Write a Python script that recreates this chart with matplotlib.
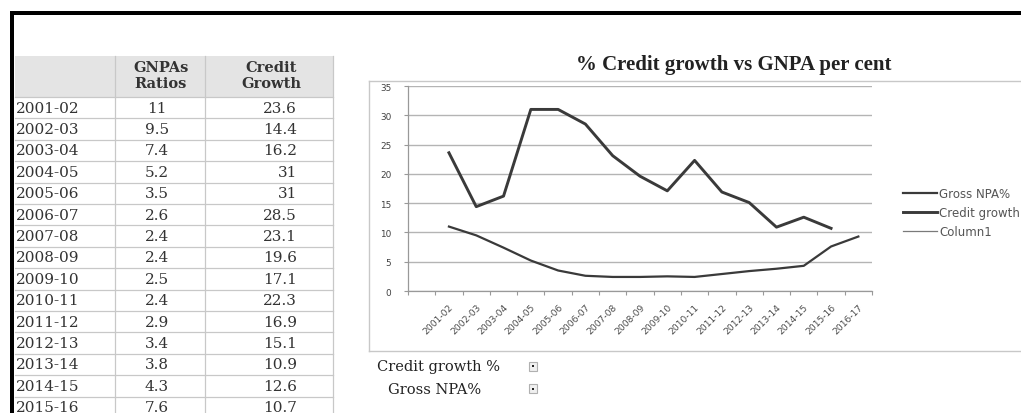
import numpy as np
import matplotlib
matplotlib.use("Agg")
import matplotlib.pyplot as plt
from matplotlib.patches import Rectangle
from matplotlib.transforms import ScaledTranslation

W, H = 1021, 414

years = ["2001-02", "2002-03", "2003-04", "2004-05", "2005-06", "2006-07",
         "2007-08", "2008-09", "2009-10", "2010-11", "2011-12", "2012-13",
         "2013-14", "2014-15", "2015-16", "2016-17"]
gnpa = [11, 9.5, 7.4, 5.2, 3.5, 2.6, 2.4, 2.4, 2.5, 2.4, 2.9, 3.4, 3.8, 4.3, 7.6, 9.3]
credit = [23.6, 14.4, 16.2, 31, 31, 28.5, 23.1, 19.6, 17.1, 22.3, 16.9, 15.1, 10.9, 12.6, 10.7]
column1 = []

table_years = years[:15]
table_gnpa = gnpa[:15]
table_credit = credit[:15]

header_gnpa = "GNPAs\nRatios"
header_credit = "Credit\nGrowth"
title = "% Credit growth vs GNPA per cent"
legend_labels = ["Gross NPA%", "Credit growth", "Column1"]
filter_labels = ["Credit growth %", "Gross NPA%"]
y_ticks = [0, 5, 10, 15, 20, 25, 30, 35]

C_LINE = "#3a3a3a"
C_GRID = "#b4b4b4"
C_RULE = "#c8c8c8"
C_TEXT = "#333333"
SERIF = "DejaVu Serif"

fig = plt.figure(figsize=(W / 100, H / 100), dpi=100)

# pixel-space background layer for table, frame and loose text
bg = fig.add_axes([0, 0, 1, 1], zorder=0)
bg.set_xlim(0, W)
bg.set_ylim(H, 0)
bg.axis("off")

# thick black border top / left
bg.add_patch(Rectangle((10, 12), W, 4, facecolor="black", lw=0))
bg.add_patch(Rectangle((10, 12), 4, H, facecolor="black", lw=0))

# ---- table ----
ROW0, ROWH = 98, 21.4
bg.add_patch(Rectangle((15, 57), 318, ROW0 - 57, facecolor="#e4e4e4", lw=0))
for x in [115, 205, 333]:
    bg.plot([x, x], [57, H], color=C_RULE, lw=0.9)
for i in range(len(table_years) + 1):
    y = ROW0 + i * ROWH
    bg.plot([15, 333], [y, y], color=C_RULE, lw=0.9)

bg.text(161, 76, header_gnpa, ha="center", va="center", family=SERIF,
        weight="bold", fontsize=10.5, color=C_TEXT, linespacing=1.1)
bg.text(271, 76, header_credit, ha="center", va="center", family=SERIF,
        weight="bold", fontsize=10.5, color=C_TEXT, linespacing=1.1)

for i, (yr, g, c) in enumerate(zip(table_years, table_gnpa, table_credit)):
    yc = ROW0 + ROWH * (i + 0.5)
    bg.text(16, yc, yr, ha="left", va="center", family=SERIF, fontsize=11, color=C_TEXT)
    bg.text(157, yc, f"{g:g}", ha="center", va="center", family=SERIF, fontsize=11, color=C_TEXT)
    bg.text(297, yc, f"{c:g}", ha="right", va="center", family=SERIF, fontsize=11, color=C_TEXT)

# ---- chart frame, title, filter buttons ----
bg.plot([369, W], [82, 82], color=C_RULE, lw=1)
bg.plot([369, 369], [82, 352], color=C_RULE, lw=1)
bg.plot([369, W], [352, 352], color=C_RULE, lw=1)

fig.text(734 / W, 1 - 65 / H, title, ha="center", va="center",
         family="Liberation Serif", weight="bold", fontsize=15, color="#222222")

for k, lab in enumerate(filter_labels):
    yc = 367 + 23 * k
    bg.text(377 if k == 0 else 388, yc, lab, ha="left", va="center",
            family=SERIF, fontsize=10.5, color="#222222")
    bg.add_patch(Rectangle((529, yc - 4.5), 8, 9, facecolor="#f0f0f0",
                           edgecolor="#b0b0b0", lw=0.8))
    bg.add_patch(Rectangle((532, yc - 1), 2, 2, facecolor="#222222", lw=0))

# ---- line chart ----
L, R, T, B = 408, 872, 87, 292
ax = fig.add_axes([L / W, 1 - B / H, (R - L) / W, (B - T) / H], zorder=1)
ax.patch.set_alpha(0)

xs = np.arange(len(years))
l1, = ax.plot(xs[:len(gnpa)], gnpa, color=C_LINE, lw=1.6)
l2, = ax.plot(xs[:len(credit)], credit, color=C_LINE, lw=2.1)
l3, = ax.plot(xs[:len(column1)], column1, color="#7a7a7a", lw=0.9)

ax.set_xlim(-1.5, len(years) - 0.5)
ax.set_ylim(0, 35)
ax.set_yticks(y_ticks)
ax.set_yticklabels([str(v) for v in y_ticks])
ax.yaxis.grid(True, color=C_GRID, lw=1.0)
ax.set_axisbelow(True)

ax.set_xticks(xs)
ax.set_xticklabels(years, rotation=45, ha="right", va="top", rotation_mode="anchor")
ax.set_xticks(np.arange(-1.5, len(years), 1), minor=True)
shift = ScaledTranslation(-0.09, 0, fig.dpi_scale_trans)
for lab in ax.get_xticklabels():
    lab.set_transform(lab.get_transform() + shift)

ax.tick_params(axis="x", which="major", length=0, pad=8, labelsize=6.6, labelcolor="#4a4a4a")
ax.tick_params(axis="x", which="minor", length=3, color="#999999", width=0.8)
ax.tick_params(axis="y", length=3, color="#999999", width=0.8, pad=9,
               labelsize=6.4, labelcolor="#404040")

for s in ["top", "right"]:
    ax.spines[s].set_visible(False)
ax.spines["left"].set_color("#999999")
ax.spines["bottom"].set_color("#999999")
ax.spines["left"].set_linewidth(0.9)
ax.spines["bottom"].set_linewidth(0.9)

ax.legend([l1, l2, l3], legend_labels, loc="upper left",
          bbox_to_anchor=(903 / W, 1 - 188 / H), bbox_transform=fig.transFigure,
          frameon=False, fontsize=8.5, labelcolor="#555555", handlelength=2.9,
          handletextpad=0.15, borderpad=0, borderaxespad=0, labelspacing=0.5)

fig.savefig("out.png", dpi=100, facecolor="white")
